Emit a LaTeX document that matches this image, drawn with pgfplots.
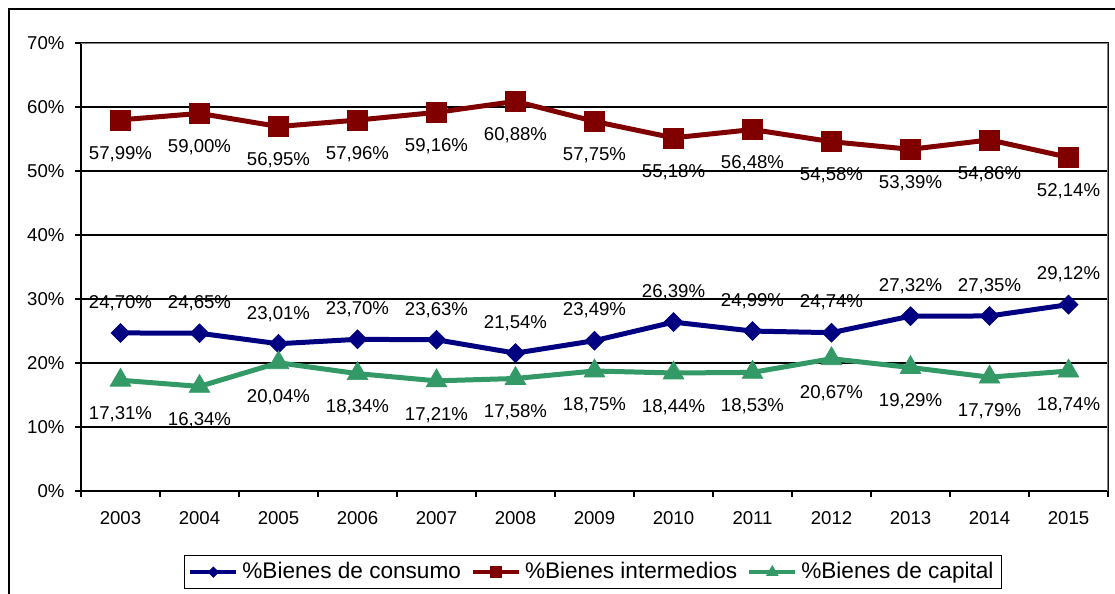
\documentclass[border=0pt]{standalone}
\usepackage{pgfplots}
\pgfplotsset{compat=1.18}
\usepackage{fontspec}
\setmainfont{Liberation Sans}
\definecolor{consumo}{RGB}{0,0,128}
\definecolor{intermedio}{RGB}{128,0,0}
\definecolor{capital}{RGB}{51,153,102}

% shares by year (x = 0 for 2003 ... 12 for 2015)
\pgfplotstableread{
x cons inter cap
0 24.70 57.99 17.31
1 24.65 59.00 16.34
2 23.01 56.95 20.04
3 23.70 57.96 18.34
4 23.63 59.16 17.21
5 21.54 60.88 17.58
6 23.49 57.75 18.75
7 26.39 55.18 18.44
8 24.99 56.48 18.53
9 24.74 54.58 20.67
10 27.32 53.39 19.29
11 27.35 54.86 17.79
12 29.12 52.14 18.74
}\datos

\begin{document}
\fontsize{9.3}{11}\selectfont
\begin{tikzpicture}[x=0.5pt,y=0.5pt]
\useasboundingbox (0,0) rectangle (1115,594);
\draw[line width=0.8pt] (9,585) rectangle (1140,-30);

\begin{axis}[
  at={(40.5pt,51.5pt)}, anchor=south west,
  scale only axis, width=513.5pt, height=224pt,
  xmin=-0.5, xmax=12.5, ymin=0, ymax=70,
  xtick={-0.5,0.5,...,12.5},
  x tick label as interval,
  xticklabels={2003,2004,2005,2006,2007,2008,2009,2010,2011,2012,2013,2014,2015},
  ytick={0,10,...,70},
  yticklabel={\pgfmathprintnumber{\tick}\%},
  /pgf/number format/assume math mode=true,
  tick align=outside,
  major tick length=3pt,
  xtick pos=bottom, ytick pos=left,
  tick style={black, line width=0.7pt},
  xticklabel style={font=\fontsize{9.3}{11}\selectfont, yshift=-4pt},
  yticklabel style={font=\fontsize{9.3}{11}\selectfont, xshift=-2pt},
  axis line style={black, line width=1pt},
  ymajorgrids=true,
  grid style={black, line width=0.6pt},
  every axis plot/.append style={line width=2.5pt},
  nodes near coords={\pgfmathprintnumber[fixed,fixed zerofill,precision=2,use comma]{\pgfplotspointmeta}\%},
  every node near coord/.append style={font=\fontsize{9.3}{11}\selectfont, text=black, anchor=center},
  legend columns=3,
  legend style={at={(0.4985,-0.1429)}, anchor=north, draw=black, line width=0.6pt,
    font=\fontsize{11.3}{13}\selectfont, inner xsep=2pt, inner ysep=1.5pt,
    /tikz/every odd column/.append style={column sep=0pt},
    /tikz/every even column/.append style={column sep=3pt}},
  legend image code/.code={\draw[mark repeat=2,mark phase=2] plot coordinates {(0pt,0pt) (11.5pt,0pt) (23pt,0pt)};},
  legend image post style={line width=2pt, /tikz/every mark/.append style={scale=0.55}},
]
\addplot[consumo, mark=square*, mark size=3.35pt, mark options={rotate=45, solid, line width=0.3pt},
  every node near coord/.append style={yshift=15pt}] table[x=x, y=cons] {\datos};
\addlegendentry{\%Bienes de consumo}
\addplot[intermedio, mark=square*, mark size=5pt, mark options={solid, line width=0.3pt},
  every node near coord/.append style={yshift=-17pt}] table[x=x, y=inter] {\datos};
\addlegendentry{\%Bienes intermedios}
\addplot[capital, mark=triangle*, mark size=6pt, mark options={solid, line width=0.3pt},
  every node near coord/.append style={yshift=-17pt}] table[x=x, y=cap] {\datos};
\addlegendentry{\%Bienes de capital}
\draw[gray, line width=1pt] (rel axis cs:0,1) -- (rel axis cs:1,1) -- (rel axis cs:1,0);
\end{axis}
\end{tikzpicture}
\end{document}
